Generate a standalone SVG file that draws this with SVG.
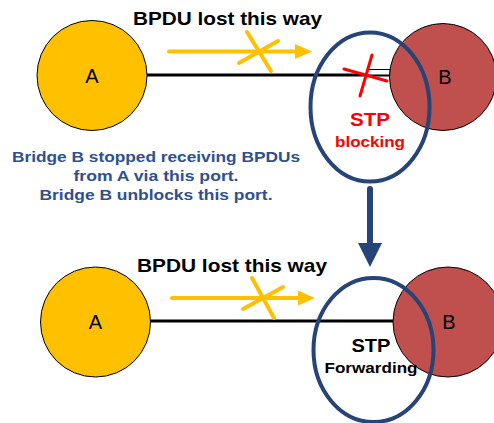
<svg xmlns="http://www.w3.org/2000/svg" width="494" height="423" viewBox="0 0 494 423">
<style>
.nodeA{fill:#FFC000;stroke:#000;stroke-width:1}
.nodeB{fill:#C0504D;stroke:#000;stroke-width:1}
.lbl{font-family:"Liberation Sans",Arial,sans-serif;font-size:20px;fill:#000;text-anchor:middle}
.title{font-family:"Liberation Sans",Arial,sans-serif;font-size:18.5px;font-weight:bold;fill:#000}
.link{stroke:#000;stroke-width:3;fill:none}
.ylw{stroke:#FFC000;stroke-width:4;fill:none;stroke-linecap:round}
.port{fill:none;stroke:#264478;stroke-width:4}
.note{font-family:"Liberation Sans",Arial,sans-serif;font-size:15px;font-weight:bold;fill:#2E5090;text-anchor:middle}
.stp{font-family:"Liberation Sans",Arial,sans-serif;font-weight:bold;text-anchor:middle}
</style>
<defs>
<marker id="yh" markerWidth="18" markerHeight="16" refX="17" refY="8" orient="auto" markerUnits="userSpaceOnUse">
<path d="M0,1 L17,8 L0,15 Z" fill="#FFC000"/>
</marker>
</defs>
<rect width="494" height="423" fill="#fff"/>

<g id="connectors">
<line class="link" x1="147" y1="75" x2="390" y2="75"/>
<rect x="367" y="69.5" width="23" height="5.5" fill="#fff" stroke="#000" stroke-width="1"/>
<line class="ylw" x1="169" y1="51.5" x2="300" y2="51.5"/>
<path d="M295,44 L312,51.5 L295,59 Z" fill="#FFC000"/>
<line class="ylw" x1="239" y1="63" x2="278" y2="41"/>
<line class="ylw" x1="247" y1="32" x2="271" y2="71"/>
<line class="link" x1="150" y1="321" x2="394" y2="321"/>
<line class="ylw" x1="172" y1="298" x2="303" y2="298"/>
<path d="M298,290.5 L315,298 L298,305.5 Z" fill="#FFC000"/>
<line class="ylw" x1="243" y1="309" x2="283" y2="287"/>
<line class="ylw" x1="252" y1="278" x2="274" y2="318"/>
<line x1="370" y1="189" x2="370" y2="246" stroke="#264478" stroke-width="6" stroke-linecap="round"/>
<path d="M358,243 L382,243 L370,267 Z" fill="#264478"/>
</g>

<g id="nodeA1">
<circle class="nodeA" cx="92" cy="75.5" r="55"/>
<text class="lbl" x="92" y="82.5">A</text>
</g>
<g id="nodeB1">
<circle class="nodeB" cx="443" cy="77" r="53.5"/>
<text class="lbl" x="445" y="83.5">B</text>
</g>
<g id="blockX">
<line x1="344" y1="69" x2="387" y2="81" stroke="#FF0000" stroke-width="3" stroke-linecap="round"/>
<line x1="372" y1="55" x2="360" y2="96" stroke="#FF0000" stroke-width="3" stroke-linecap="round"/>
</g>
<g id="port1">
<ellipse class="port" cx="370" cy="107" rx="59.5" ry="74.5"/>
<text class="stp" x="370" y="126" font-size="19" fill="#FF0000" textLength="40" lengthAdjust="spacingAndGlyphs">STP</text>
<text class="stp" x="370" y="147" font-size="15.5" fill="#FF0000" textLength="70" lengthAdjust="spacingAndGlyphs">blocking</text>
</g>
<text class="title" x="133" y="25" textLength="189" lengthAdjust="spacingAndGlyphs">BPDU lost this way</text>
<g id="note">
<text class="note" x="156" y="162" textLength="288" lengthAdjust="spacingAndGlyphs">Bridge B stopped receiving BPDUs</text>
<text class="note" x="156" y="181" textLength="165" lengthAdjust="spacingAndGlyphs">from A via this port.</text>
<text class="note" x="156" y="200" textLength="233" lengthAdjust="spacingAndGlyphs">Bridge B unblocks this port.</text>
</g>

<g id="nodeA2">
<circle class="nodeA" cx="95.5" cy="322" r="55"/>
<text class="lbl" x="95.5" y="329">A</text>
</g>
<g id="nodeB2">
<circle class="nodeB" cx="448" cy="322" r="55"/>
<text class="lbl" x="449" y="329">B</text>
</g>
<g id="port2">
<ellipse class="port" cx="373.5" cy="350" rx="60" ry="72"/>
<text class="stp" x="371" y="352" font-size="19" fill="#000" textLength="39" lengthAdjust="spacingAndGlyphs">STP</text>
<text class="stp" x="371" y="373" font-size="15" fill="#000" textLength="93" lengthAdjust="spacingAndGlyphs">Forwarding</text>
</g>
<text class="title" x="137" y="272" textLength="190" lengthAdjust="spacingAndGlyphs">BPDU lost this way</text>
</svg>
